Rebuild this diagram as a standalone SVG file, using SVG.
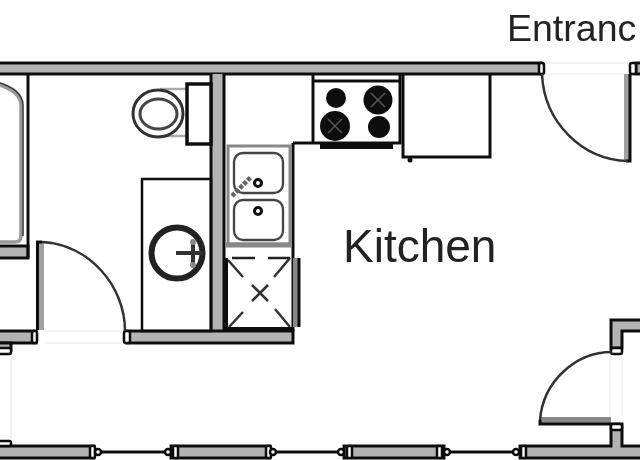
<svg xmlns="http://www.w3.org/2000/svg" width="640" height="460" viewBox="0 0 640 460">
<style>
.w{fill:#b3b3b3;stroke:#111;stroke-width:3}
.j{fill:#fff;stroke:#111;stroke-width:2.500}
.l{fill:none;stroke:#111;stroke-width:3}
.g{fill:none;stroke:#999;stroke-width:3}
.f{fill:#fff;stroke:#111;stroke-width:3}
.a{fill:none;stroke:#333;stroke-width:2.500}
.gap{fill:none;stroke:#eee;stroke-width:1.5}
.b{fill:#111}
.s{fill:none;stroke:#444;stroke-width:2.300}
.t{font-family:"Liberation Sans",Arial,sans-serif;fill:#222}
</style>
<defs>
<filter id="soft" x="-2%" y="-2%" width="104%" height="104%"><feGaussianBlur stdDeviation="0.5"/></filter>
</defs>
<rect width="640" height="460" fill="#fff"/>
<g filter="url(#soft)">
<g id="gaps">
<path class="gap" d="M545 63H628M545 74H628M45 331H122M45 343H122M11 356V440M610 356V416M622 356V416"/>
</g>
<g id="walls">
<path class="w" d="M-3 63H541V74H-3Z"/>
<path class="w" d="M636 63H643V74H636Z"/>
<path d="M211 74H223V331H211Z" fill="#b3b3b3"/>
<path class="l" d="M211 74V331M224 74V331"/>
<path class="w" d="M127 331H293V343H127Z"/>
<path class="w" d="M-3 331H36V343H-3Z"/>
<path class="w" d="M-3 343H11V350H-3Z"/>
<path class="w" d="M-3 246H28V258H-3Z"/>
<path class="l" d="M28 74V258"/>
<path class="w" d="M611 348V320H643V331H622V348Z"/>
<path class="w" d="M611 446V424H622V446H643V458H520V446Z"/>
<path class="w" d="M-3 446H94V458H-3Z"/>
<path class="w" d="M171 446H270V458H171Z"/>
<path class="w" d="M344 446H444V458H344Z"/>
</g>
<g id="openings">
<rect class="j" x="32" y="331" width="5" height="12" rx="2"/>
<rect class="j" x="124" y="331" width="6" height="12" rx="2"/>
<rect class="j" x="-3" y="348" width="14" height="6" rx="2"/>
<rect class="j" x="-3" y="441" width="14" height="5" rx="2"/>
<rect class="j" x="611" y="348" width="11" height="6" rx="2"/>
<rect class="j" x="611" y="424" width="11" height="6" rx="2"/>
<rect class="j" x="539" y="63" width="5" height="11" rx="2"/>
<rect class="j" x="630" y="63" width="6" height="11" rx="2"/>
<rect class="j" x="90" y="446" width="5" height="12" rx="1.5"/>
<rect class="j" x="173" y="446" width="5" height="12" rx="1.5"/>
<rect class="j" x="266" y="446" width="5" height="12" rx="1.5"/>
<rect class="j" x="347" y="446" width="5" height="12" rx="1.5"/>
<rect class="j" x="437" y="446" width="5" height="12" rx="1.5"/>
<rect class="j" x="521" y="446" width="5" height="12" rx="1.5"/>
</g>
<g id="windows">
<path class="l" d="M100 452H167M273 452H340M450 452H513"/>
<circle class="j" cx="98" cy="452" r="3"/>
<circle class="j" cx="168" cy="452" r="3"/>
<circle class="j" cx="273" cy="452" r="3"/>
<circle class="j" cx="341" cy="452" r="3"/>
<circle class="j" cx="447" cy="452" r="3"/>
<circle class="j" cx="516" cy="452" r="3"/>
</g>
<g id="doors">
<path d="M38 242H44V330H38Z" fill="#a0a0a0"/>
<path class="l" d="M37.500 330V242H42"/>
<path class="a" d="M42 242C88 244 125 285 125 331"/>
<path d="M624 74H630V161H624Z" fill="#a0a0a0"/>
<path class="l" d="M630 74V161H626"/>
<path class="a" d="M542 74C544 122 582 160 628 161"/>
<path d="M541 417H611V424H541Z" fill="#888"/>
<path class="l" d="M611 424H540V420"/>
<path class="a" d="M540 420C543 382 575 352 612 352"/>
</g>
<g id="bathtub">
<path d="M-3 84C10 88 21 95 21 105V236Q21 242 15 242H-3" fill="none" stroke="#999" stroke-width="3.500"/>
<path d="M-3 82C12 86 23 94 23 105V236" fill="none" stroke="#333" stroke-width="1.500"/>
</g>
<g id="toilet">
<path d="M160 89H187M160 136H187" stroke="#aaa" stroke-width="2.500" fill="none"/>
<ellipse class="f" cx="158" cy="113.500" rx="25" ry="23.500" style="stroke:#333;stroke-width:3"/>
<ellipse cx="158.500" cy="114" rx="18.500" ry="15" fill="#fff" stroke="#444" stroke-width="3"/>
<rect class="f" x="187" y="84" width="24" height="60" style="stroke-width:3.500"/>
</g>
<g id="basin">
<rect class="l" x="142" y="179" width="69" height="152" style="stroke-width:2.500"/>
<circle cx="177" cy="253" r="25.500" fill="none" stroke="#222" stroke-width="6"/>
<path d="M176 253H203M193 240V266" stroke="#333" stroke-width="4" fill="none"/>
<circle cx="193" cy="242" r="3" fill="#888"/>
<circle cx="193" cy="265" r="3" fill="#888"/>
</g>
<g id="stove">
<path class="l" d="M313 75V143H400V75M313 81H400M293 143H313"/>
<path class="b" d="M320 143H393V149H320Z"/>
<circle class="b" cx="336" cy="98" r="10"/>
<circle class="b" cx="378" cy="100" r="14.500"/>
<circle class="b" cx="335" cy="126" r="15"/>
<circle class="b" cx="379" cy="127" r="11"/>
<path d="M371 93L385 107M385 93L371 107M328 119L342 133M342 119L328 133" stroke="#555" stroke-width="1.500" fill="none"/>
</g>
<g id="cabinet">
<path class="l" d="M403 74V157H490V74"/>
<circle class="b" cx="410" cy="160" r="2.500"/>
</g>
<g id="sink">
<path class="l" d="M293 143V331"/>
<rect x="228" y="146" width="62" height="98" fill="none" stroke="#888" stroke-width="3"/>
<path d="M226 245H292" stroke="#888" stroke-width="5" fill="none"/>
<rect class="s" x="234" y="153" width="49" height="40" rx="9"/>
<rect class="s" x="234" y="200" width="49" height="40" rx="9"/>
<path d="M232 196L251 177" stroke="#666" stroke-width="4.500" stroke-dasharray="4 1.500" fill="none"/>
<circle cx="258" cy="183" r="3.500" fill="#fff" stroke="#111" stroke-width="3"/>
<circle cx="258" cy="211" r="3.500" fill="#fff" stroke="#111" stroke-width="3"/>
</g>
<g id="appliance">
<path d="M296 258V327" stroke="#888" stroke-width="6" fill="none"/>
<path class="l" d="M299 258V327"/>
<path d="M232 258H255M268 258H290" stroke="#222" stroke-width="2.500" fill="none"/>
<path d="M228 260L243 277M290 258L274 277M229 327L243 312M290 327L275 309M252 285L268 301M268 285L252 301" stroke="#333" stroke-width="2.500" fill="none"/>
<path d="M226 258V330M226 329H292" stroke="#111" stroke-width="4" fill="none"/>
</g>
<g id="labels">
<text class="t" x="507" y="41" font-size="37.500">Entranc</text>
<text class="t" x="343" y="262" font-size="46">Kitchen</text>
</g>
</g>
</svg>
